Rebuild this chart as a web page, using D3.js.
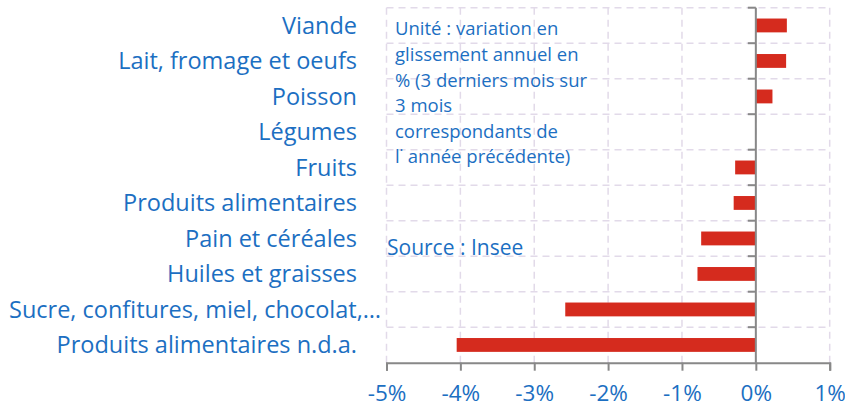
<!DOCTYPE html>
<html>
<head>
<meta charset="utf-8">
<script src="https://cdn.jsdelivr.net/npm/d3@7"></script>
<style>
  body { margin: 0; background: #fff; }
  text { font-family: "Open Sans", "Noto Sans", sans-serif; fill: #1c6fc2; }
</style>
</head>
<body>
<div class="chart"></div>
<script>
// Categories (top to bottom) and their values in %
var categories = ["Viande", "Lait, fromage et oeufs", "Poisson", "Légumes", "Fruits",
  "Produits alimentaires", "Pain et céréales", "Huiles et graisses",
  "Sucre, confitures, miel, chocolat,…", "Produits alimentaires n.d.a."];
var values = [0.42, 0.41, 0.225, 0, -0.28, -0.30, -0.74, -0.79, -2.58, -4.05];
var xTicks = [-5, -4, -3, -2, -1, 0, 1];
var noteLines = ["Unité : variation en", "glissement annuel en", "% (3 derniers mois sur",
  "3 mois", "correspondants de", "l˙ année précédente)"];
var sourceText = "Source : Insee";

// SVG area
var svgWidth = 845;
var svgHeight = 407;

var margin = { top: 7.7, right: 15.3, bottom: 44.3, left: 386.5 };
var width = svgWidth - margin.left - margin.right;
var height = svgHeight - margin.top - margin.bottom;

var svg = d3.select(".chart")
  .append("svg")
  .attr("width", svgWidth)
  .attr("height", svgHeight);

var chart = svg.append("g")
  .attr("transform", "translate(" + margin.left + ", " + margin.top + ")");

// Scales
var xScale = d3.scaleLinear().domain([-5, 1]).range([0, width]);
var yScale = d3.scaleBand().domain(categories).range([0, height]).paddingInner(0.61).paddingOuter(0.305);
var step = yScale.step();

// Dashed grid
var gridColor = "#e2dae9";
chart.selectAll(".vgrid")
  .data(xTicks)
  .enter().append("line")
  .attr("x1", function(d) { return xScale(d); })
  .attr("x2", function(d) { return xScale(d); })
  .attr("y1", 0)
  .attr("y2", height)
  .attr("stroke", gridColor)
  .attr("stroke-width", 1.5)
  .attr("stroke-dasharray", "7,5");

chart.selectAll(".hgrid")
  .data(d3.range(categories.length))
  .enter().append("line")
  .attr("x1", 0)
  .attr("x2", width)
  .attr("y1", function(i) { return i * step; })
  .attr("y2", function(i) { return i * step; })
  .attr("stroke", gridColor)
  .attr("stroke-width", 1.5)
  .attr("stroke-dasharray", "7,5");

// Bars
chart.selectAll(".bar")
  .data(values)
  .enter().append("rect")
  .attr("x", function(d) { return xScale(Math.min(0, d)); })
  .attr("y", function(d, i) { return yScale(categories[i]); })
  .attr("width", function(d) { return Math.abs(xScale(d) - xScale(0)); })
  .attr("height", yScale.bandwidth())
  .attr("fill", "#d52b1e");

// Bottom axis
var axisColor = "#888888";
var bottomAxis = d3.axisBottom(xScale)
  .tickValues(xTicks)
  .tickSize(8)
  .tickFormat(function(d) { return d + "%"; });

var xAxis = chart.append("g")
  .attr("transform", "translate(0, " + height + ")")
  .call(bottomAxis);
xAxis.select(".domain").attr("stroke", axisColor).attr("stroke-width", 2);
xAxis.selectAll(".tick line").attr("stroke", axisColor).attr("stroke-width", 2);
xAxis.selectAll(".tick text")
  .attr("y", 30)
  .attr("dy", "0.35em")
  .style("font-size", "22.5px")
  .style("fill", "#1c6fc2");

// Vertical axis at 0 with ticks at category boundaries
var zeroAxis = chart.append("g")
  .attr("transform", "translate(" + xScale(0) + ", 0)");
zeroAxis.append("line")
  .attr("y1", 0)
  .attr("y2", height)
  .attr("stroke", axisColor)
  .attr("stroke-width", 2);
zeroAxis.selectAll(".ytick")
  .data(d3.range(categories.length))
  .enter().append("line")
  .attr("x1", -8)
  .attr("x2", 0)
  .attr("y1", function(i) { return i * step; })
  .attr("y2", function(i) { return i * step; })
  .attr("stroke", axisColor)
  .attr("stroke-width", 2);

// Category labels on the left (right aligned; too long ones start at the left edge)
svg.selectAll(".catLabel")
  .data(categories)
  .enter().append("text")
  .attr("x", 357)
  .attr("y", function(d) { return margin.top + yScale(d) + yScale.bandwidth() / 2; })
  .attr("dy", "0.35em")
  .attr("text-anchor", "end")
  .style("font-size", "23.5px")
  .text(function(d) { return d; })
  .each(function() {
    var box = this.getBBox();
    if (box.x < 8) {
      d3.select(this).attr("x", 9).attr("text-anchor", "start");
    }
  });

// Note and source
svg.selectAll(".note")
  .data(noteLines)
  .enter().append("text")
  .attr("x", 395)
  .attr("y", function(d, i) { return 29 + i * 25.6; })
  .attr("dy", "0.35em")
  .style("font-size", "18.5px")
  .text(function(d) { return d; });

svg.append("text")
  .attr("x", 387)
  .attr("y", 248)
  .attr("dy", "0.35em")
  .style("font-size", "21px")
  .text(sourceText);
</script>
</body>
</html>
